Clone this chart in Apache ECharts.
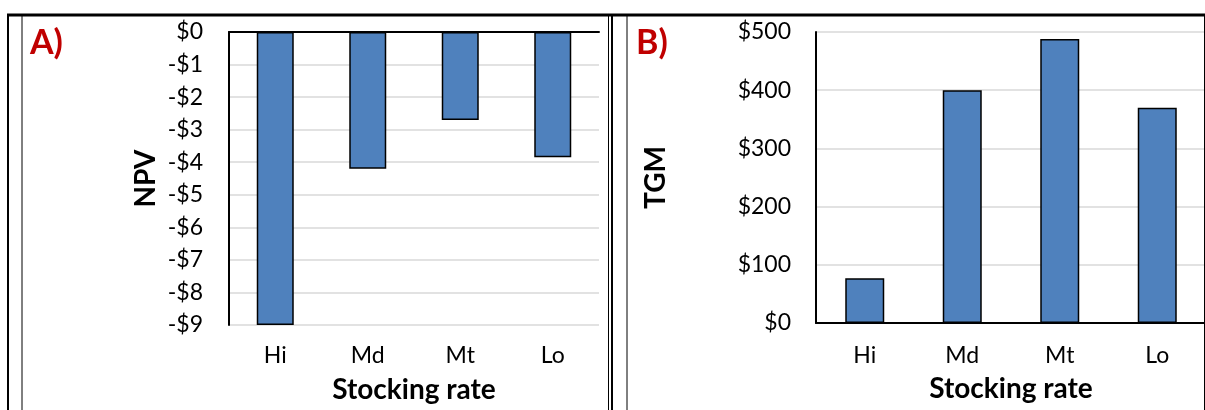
<!DOCTYPE html>
<html><head><meta charset="utf-8">
<script src="https://cdn.jsdelivr.net/npm/echarts@6/dist/echarts.min.js"></script>
<style>html,body{margin:0;padding:0;background:#fff}#c{width:1205px;height:410px}</style>
</head><body><div id="c"></div>
<script>
const categories = ['Hi','Md','Mt','Lo'];
const npvValues = [-9.0, -4.2, -2.7, -3.85];
const tgmValues = [77, 400, 488, 370];
const panelLabels = ['A)','B)'];
const yNames = ['NPV','TGM'];
const xName = 'Stocking rate';

const FONT = 'Lato, "Open Sans", sans-serif';
const chart = echarts.init(document.getElementById('c'));
const barStyle = {color:'#4f81bd', borderColor:'#000', borderWidth:1.5};
const lineCol = '#000';
const grid = '#d9d9d9';
const TICK = 23, TITLE = 28;

function ln(x1,y1,x2,y2,w){return {type:'line',shape:{x1,y1,x2,y2},style:{stroke:'#000',lineWidth:w},silent:true,z:100};}

chart.setOption({
  animation:false,
  grid:[
    {left:229, top:32, width:370, height:293, outerBoundsMode:'none', containLabel:false},
    {left:816, top:32, width:390, height:291, outerBoundsMode:'none', containLabel:false}
  ],
  xAxis:[
    {gridIndex:0, type:'category', data:categories, position:'bottom',
     axisLine:{show:false, onZero:false}, axisTick:{show:false},
     axisLabel:{fontFamily:FONT, fontSize:TICK, color:'#000', margin:19},
     name:xName, nameLocation:'middle', nameGap:51, nameMoveOverlap:false,
     nameTextStyle:{fontFamily:FONT, fontSize:TITLE, fontWeight:'bold', color:'#000'}},
    {gridIndex:0, type:'category', data:categories, position:'top',
     axisLine:{show:true, onZero:false, lineStyle:{color:lineCol, width:2}}, axisTick:{show:false}, axisLabel:{show:false}},
    {gridIndex:1, type:'category', data:categories, position:'bottom',
     axisLine:{show:true, lineStyle:{color:lineCol, width:2}}, axisTick:{show:false},
     axisLabel:{fontFamily:FONT, fontSize:TICK, color:'#000', margin:21},
     name:xName, nameLocation:'middle', nameGap:52, nameMoveOverlap:false,
     nameTextStyle:{fontFamily:FONT, fontSize:TITLE, fontWeight:'bold', color:'#000'}}
  ],
  yAxis:[
    {gridIndex:0, type:'value', min:-9, max:0, interval:1,
     axisLine:{show:true, lineStyle:{color:lineCol, width:2}}, axisTick:{show:false},
     splitLine:{lineStyle:{color:grid, width:1.5}},
     axisLabel:{fontFamily:FONT, fontSize:TICK, color:'#000', margin:26,
       formatter:v=> v===0 ? '$0' : (v<0 ? '-$'+Math.abs(v) : '$'+v)},
     name:yNames[0], nameLocation:'middle', nameGap:69, nameRotate:90, nameMoveOverlap:false,
     nameTextStyle:{fontFamily:FONT, fontSize:TITLE, fontWeight:'bold', color:'#000'}},
    {gridIndex:1, type:'value', min:0, max:500, interval:100,
     axisLine:{show:true, lineStyle:{color:lineCol, width:2}}, axisTick:{show:false},
     splitLine:{lineStyle:{color:grid, width:1.5}},
     axisLabel:{fontFamily:FONT, fontSize:TICK, color:'#000', margin:25, formatter:v=>'$'+v},
     name:yNames[1], nameLocation:'middle', nameGap:146, nameRotate:90, nameMoveOverlap:false,
     nameTextStyle:{fontFamily:FONT, fontSize:TITLE, fontWeight:'bold', color:'#000'}}
  ],
  series:[
    {type:'bar', xAxisIndex:0, yAxisIndex:0, data:npvValues, barWidth:37, itemStyle:barStyle},
    {type:'bar', xAxisIndex:2, yAxisIndex:1, data:tgmValues, barWidth:39, itemStyle:barStyle}
  ],
  graphic:[
    {type:'text', left:30, top:26, style:{text:panelLabels[0], font:'bold 34px '+FONT, fill:'#c00000'}},
    {type:'text', left:636, top:26, style:{text:panelLabels[1], font:'bold 34px '+FONT, fill:'#c00000'}},
    ln(7,15,1205,15,3),
    ln(8,15,8,410,2),
    ln(22,15,22,410,1),
    ln(608.5,15,608.5,410,1),
    ln(612,15,612,410,2),
    ln(627,15,627,410,1),
    ln(1204.5,15,1204.5,410,1)
  ]
});
</script></body></html>
